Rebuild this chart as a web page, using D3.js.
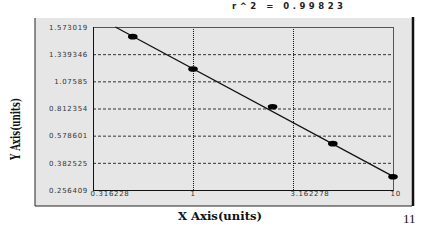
<!DOCTYPE html>
<html>
<head>
<meta charset="utf-8">
<script src="https://cdn.jsdelivr.net/npm/d3@7"></script>
<style>
  body { margin: 0; background: #fff; }
  svg { display: block; }
  .tick-label { font-family: "DejaVu Sans", sans-serif; font-size: 7px; fill: #333; letter-spacing: 0.7px; }
</style>
</head>
<body>
<div id="chart"></div>
<script>
// standard curve data
const xTicks = [0.316228, 1, 3.162278, 10];
const yTicks = [1.573019, 1.339346, 1.07585, 0.812354, 0.578601, 0.382525, 0.256409];
const concentrations = [0.5, 1, 2.5, 5, 10];
const responses = [1.490, 1.195, 0.829, 0.521, 0.318];
// fitted line end points
const fitX = [0.409, 10];
const fitY = [1.573019, 0.3196];
const rSquared = "0.99823";

const W = 435, H = 240;
const plot = {left: 93, top: 27, right: 393, bottom: 190};

let svg = d3.select("#chart").append("svg")
    .attr("width", W)
    .attr("height", H);

// outer grey panel
svg.append("rect")
    .attr("x", 35).attr("y", 18)
    .attr("width", 377).attr("height", 188)
    .attr("fill", "#e6e6e6");
svg.append("path")
    .attr("d", "M35,18V206H412")
    .attr("fill", "none")
    .attr("stroke", "#222")
    .attr("stroke-width", 1);
svg.append("line")
    .attr("x1", 413).attr("x2", 413)
    .attr("y1", 17).attr("y2", 206)
    .attr("stroke", "#111")
    .attr("stroke-width", 2.5);

let x = d3.scaleLog()
    .domain([xTicks[0], xTicks[xTicks.length - 1]])
    .range([plot.left, plot.right]);

// tick labels are evenly spaced, so the y scale is piecewise linear between them
let step = (plot.bottom - plot.top) / (yTicks.length - 1);
let y = d3.scaleLinear()
    .domain(yTicks)
    .range(yTicks.map((d, i) => plot.top + i * step));

// grid
svg.append("g").selectAll("line")
    .data(yTicks.slice(1, -1))
    .enter().append("line")
    .attr("x1", plot.left).attr("x2", plot.right)
    .attr("y1", d => y(d) + 0.5).attr("y2", d => y(d) + 0.5)
    .attr("stroke", "#333")
    .attr("stroke-width", 1)
    .attr("stroke-dasharray", "3,2");

svg.append("g").selectAll("line")
    .data(xTicks.slice(1, -1))
    .enter().append("line")
    .attr("x1", d => x(d) + 0.5).attr("x2", d => x(d) + 0.5)
    .attr("y1", plot.top).attr("y2", plot.bottom)
    .attr("stroke", "#111")
    .attr("stroke-width", 1)
    .attr("stroke-dasharray", "1,1");

// plot frame
svg.append("rect")
    .attr("x", plot.left + 0.5).attr("y", plot.top + 0.5)
    .attr("width", plot.right - plot.left).attr("height", plot.bottom - plot.top)
    .attr("fill", "none")
    .attr("stroke", "#555");
svg.append("path")
    .attr("d", `M${plot.left + 0.5},${plot.top}V${plot.bottom + 0.5}H${plot.right + 0.5}`)
    .attr("fill", "none")
    .attr("stroke", "#111");

// axes (labels only)
let yAxis = svg.append("g")
    .attr("transform", `translate(${plot.left},0)`)
    .call(d3.axisLeft(y).tickValues(yTicks).tickSize(0).tickPadding(5).tickFormat(d => String(d)));
yAxis.select(".domain").remove();
yAxis.selectAll("text").attr("class", "tick-label").attr("font-family", null).attr("font-size", null).attr("fill", null);

let xAxis = svg.append("g")
    .attr("transform", `translate(0,${plot.bottom})`)
    .call(d3.axisBottom(x).tickValues(xTicks).tickSize(0).tickPadding(1).tickFormat(d => String(d)));
xAxis.select(".domain").remove();
xAxis.selectAll("text").attr("class", "tick-label").attr("font-family", null).attr("font-size", null).attr("fill", null)
    .attr("text-anchor", "start")
    .attr("dx", -3);

// fitted curve
let line = d3.line().x(d => x(d[0])).y(d => y(d[1]));
svg.append("path")
    .datum(fitX.map((d, i) => [d, fitY[i]]))
    .attr("d", line)
    .attr("fill", "none")
    .attr("stroke", "#111")
    .attr("stroke-width", 1.3);

// points
svg.append("g").selectAll("ellipse")
    .data(concentrations)
    .enter().append("ellipse")
    .attr("cx", d => x(d))
    .attr("cy", (d, i) => y(responses[i]))
    .attr("rx", 4.8).attr("ry", 2.8)
    .attr("fill", "#000");

// texts
svg.append("text")
    .attr("x", 232).attr("y", 8.5)
    .attr("font-family", "DejaVu Sans, sans-serif")
    .attr("font-weight", "bold")
    .attr("font-size", 8.5)
    .attr("letter-spacing", 3.5)
    .attr("fill", "#222")
    .text("r^2 = " + rSquared);

svg.append("text")
    .attr("x", 220).attr("y", 220)
    .attr("text-anchor", "middle")
    .attr("font-family", "DejaVu Serif, serif")
    .attr("font-weight", "bold")
    .attr("font-size", 11)
    .attr("fill", "#111")
    .attr("textLength", 84)
    .attr("lengthAdjust", "spacingAndGlyphs")
    .text("X Axis(units)");

svg.append("text")
    .attr("transform", "translate(20,129) rotate(-90)")
    .attr("text-anchor", "middle")
    .attr("font-family", "DejaVu Serif, serif")
    .attr("font-weight", "bold")
    .attr("font-size", 13)
    .attr("fill", "#111")
    .attr("textLength", 62)
    .attr("lengthAdjust", "spacingAndGlyphs")
    .text("Y Axis(units)");

svg.append("text")
    .attr("x", 403).attr("y", 223)
    .attr("font-family", "Liberation Serif, serif")
    .attr("font-size", 13)
    .attr("fill", "#111")
    .text("11");
</script>
</body>
</html>
